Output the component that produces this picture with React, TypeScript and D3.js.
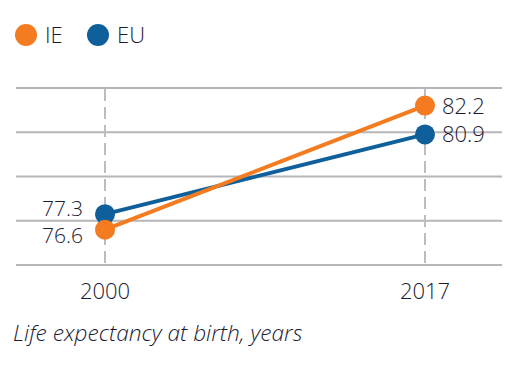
import React from "react";
import { scaleLinear, scalePoint, line } from "d3";

const years = ["2000", "2017"];
const seriesNames = ["IE", "EU"];
const ieValues = [76.6, 82.2];
const euValues = [77.3, 80.9];
const gridValues = [75, 77, 79, 81, 83];
const caption = "Life expectancy at birth, years";

const colors: Record<string, string> = { IE: "#f47b20", EU: "#0f5f9a" };
const textColor = "#1b1a33";
const gridColor = "#b6b6ba";
const font = "'Open Sans', 'Noto Sans', sans-serif";

const width = 527;
const height = 370;

export default function App() {
  const x = scalePoint<string>().domain(years).range([105, 425]);
  const y = scaleLinear().domain([75, 83]).range([265.1, 87.9]);

  const series = [
    { name: "EU", values: euValues },
    { name: "IE", values: ieValues },
  ];

  const path = line<number>()
    .x((d, i) => x(years[i]) as number)
    .y((d) => y(d));

  // left labels are pushed apart so they don't collide
  const leftShift: Record<string, number> = { EU: -6, IE: 5 };

  return (
    <>
      <style>{`body{margin:0}`}</style>
      <svg width={width} height={height} style={{ display: "block", fontFamily: font, fontWeight: 350 }}>
        {/* legend */}
        {seriesNames.map((n, i) => (
          <g key={n} transform={`translate(${26 + i * 72},35)`}>
            <circle r={11} fill={colors[n]} />
            <text x={19} y={8} fontSize={22} fill={textColor}>{n}</text>
          </g>
        ))}

        {/* horizontal grid */}
        {gridValues.map((v) => (
          <line key={v} x1={16} x2={502} y1={y(v)} y2={y(v)} stroke={gridColor} strokeWidth={2} />
        ))}

        {/* vertical dashed year lines */}
        {years.map((yr) => (
          <line
            key={yr}
            x1={x(yr)}
            x2={x(yr)}
            y1={89}
            y2={y(75)}
            stroke="#bdbdc0"
            strokeWidth={2}
            strokeDasharray="12,6"
          />
        ))}

        {/* year labels */}
        {years.map((yr) => (
          <text key={yr} x={x(yr)} y={299} fontSize={22} textAnchor="middle" fill={textColor}>{yr}</text>
        ))}

        {/* lines */}
        {series.map((s) => (
          <path key={s.name} d={path(s.values) || ""} fill="none" stroke={colors[s.name]} strokeWidth={4} />
        ))}

        {/* points */}
        {series.map((s) =>
          s.values.map((v, i) => (
            <circle key={s.name + i} cx={x(years[i])} cy={y(v)} r={10} fill={colors[s.name]} />
          ))
        )}

        {/* value labels */}
        {series.map((s) =>
          s.values.map((v, i) =>
            i === 0 ? (
              <text key={"l" + s.name + i} x={(x(years[i]) as number) - 22} y={y(v) + 8 + leftShift[s.name]} fontSize={21} textAnchor="end" fill={textColor}>
                {v.toFixed(1)}
              </text>
            ) : (
              <text key={"l" + s.name + i} x={(x(years[i]) as number) + 17} y={y(v) + 8} fontSize={22} fill={textColor}>
                {v.toFixed(1)}
              </text>
            )
          )
        )}

        <text x={13} y={341} fontSize={22.7} fontStyle="italic" fill={textColor}>{caption}</text>
      </svg>
    </>
  );
}
